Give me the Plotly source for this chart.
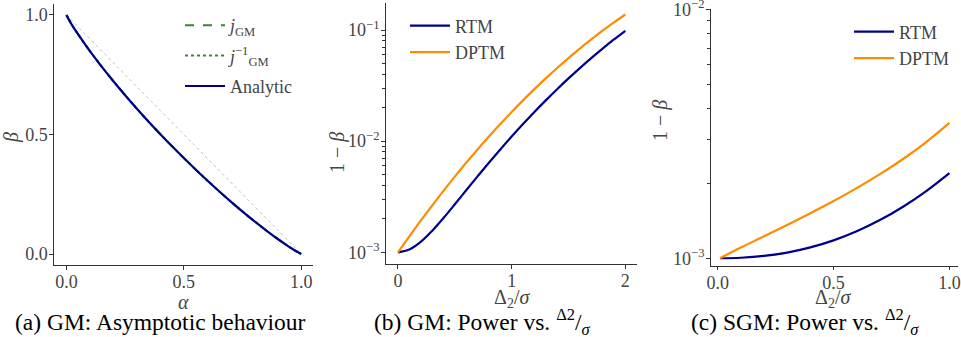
import plotly.graph_objects as go

# ---------------- data ----------------
# (a) GM: asymptotic trade-off curve
alpha = [0.0, 0.01, 0.02, 0.05, 0.10, 0.15, 0.20, 0.25, 0.30, 0.35, 0.40, 0.45, 0.50,
         0.55, 0.60, 0.65, 0.70, 0.75, 0.80, 0.85, 0.90, 0.95, 0.99, 1.0]
beta_analytic = [1.0, 0.981, 0.964, 0.9185, 0.8489, 0.7842, 0.7229, 0.6644, 0.6081, 0.5538,
                 0.5013, 0.4505, 0.4013, 0.3536, 0.3074, 0.2626, 0.2193, 0.1776, 0.1375,
                 0.0992, 0.0628, 0.0290, 0.005, 0.0]
beta_jgm = beta_analytic
beta_jgm_inv = beta_analytic
diag_x = [0.0, 1.0]
diag_y = [1.0, 0.0]

# (b) GM: power vs Delta2/sigma
d_gm = [0.0, 0.1, 0.2, 0.3, 0.4, 0.5, 0.6, 0.7, 0.8, 0.9, 1.0,
        1.1, 1.2, 1.3, 1.4, 1.5, 1.6, 1.7, 1.8, 1.9, 2.0]
rtm_gm = [0.001, 0.001059, 0.00124, 0.001558, 0.002035, 0.002705, 0.003617, 0.00482,
          0.0064, 0.00842, 0.0110, 0.01424, 0.01829, 0.02327, 0.02935, 0.03669,
          0.04547, 0.05587, 0.06805, 0.08219, 0.09844]
dptm_gm = [0.001, 0.001394, 0.001925, 0.002634, 0.003571, 0.004796, 0.006385, 0.008421,
           0.01101, 0.01425, 0.01830, 0.02328, 0.02937, 0.03671, 0.0455, 0.0559,
           0.0681, 0.0822, 0.0985, 0.1170, 0.1378]

# (c) SGM: power vs Delta2/sigma
d_sgm = [0.01, 0.1, 0.2, 0.3, 0.4, 0.5, 0.6, 0.7, 0.8, 0.9, 1.0]
rtm_sgm = [0.001, 0.0010044, 0.0010213, 0.0010539, 0.0011055, 0.0011802, 0.0012839,
           0.0014237, 0.0016114, 0.0018627, 0.0022]
dptm_sgm = [0.001, 0.001104, 0.0012246, 0.0013614, 0.0015171, 0.0016982, 0.0019143,
            0.0021777, 0.002506, 0.002931, 0.003499]

# tick labels
lin_ticks = [0.0, 0.5, 1.0]
lin_labels = ["0.0", "0.5", "1.0"]
gm_xticks = [0, 1, 2]
gm_xlabels = ["0", "1", "2"]
log_ticks_b = [1e-3, 1e-2, 1e-1]
log_labels_b = ["10<sup>−3</sup>", "10<sup>−2</sup>", "10<sup>−1</sup>"]
log_ticks_c = [1e-3, 1e-2]
log_labels_c = ["10<sup>−3</sup>", "10<sup>−2</sup>"]
minor_b = [k * 10.0 ** e for e in (-3, -2, -1) for k in range(2, 10) if k * 10.0 ** e < 0.18]
minor_c = [k * 1e-3 for k in range(2, 10)]

captions = ["(a) GM: Asymptotic behaviour",
            "(b) GM: Power vs. <sup>Δ2</sup>/<sub><i>σ</i></sub>",
            "(c) SGM: Power vs. <sup>Δ2</sup>/<sub><i>σ</i></sub>"]

NAVY = "#00008B"
ORANGE = "#FF8C00"
GREEN = "#2E8B2E"
AX = "#333333"
FONT = "Liberation Serif, Times New Roman, serif"

fig = go.Figure()

# panel (a)
fig.add_trace(go.Scatter(x=diag_x, y=diag_y, mode="lines", showlegend=False,
                         line=dict(color="#b0b0b0", width=0.8, dash="dot"),
                         xaxis="x", yaxis="y"))
fig.add_trace(go.Scatter(x=alpha, y=beta_jgm, mode="lines", name="<i>j</i><sub>GM</sub>",
                         line=dict(color=GREEN, width=2, dash="dash", shape="spline"),
                         xaxis="x", yaxis="y", legend="legend", legendgroup="g1"))
fig.add_trace(go.Scatter(x=alpha, y=beta_jgm_inv, mode="lines",
                         name="<i>j</i><sup>−1</sup><sub>GM</sub>",
                         line=dict(color=GREEN, width=2, dash="dot", shape="spline"),
                         xaxis="x", yaxis="y", legend="legend", legendgroup="g2"))
fig.add_trace(go.Scatter(x=alpha, y=beta_analytic, mode="lines", name="Analytic",
                         line=dict(color=NAVY, width=2.2, shape="spline"),
                         xaxis="x", yaxis="y", legend="legend", legendgroup="g3"))

# panel (b)
fig.add_trace(go.Scatter(x=d_gm, y=rtm_gm, mode="lines", name="RTM",
                         line=dict(color=NAVY, width=2.2, shape="spline"),
                         xaxis="x2", yaxis="y2", legend="legend2"))
fig.add_trace(go.Scatter(x=d_gm, y=dptm_gm, mode="lines", name="DPTM",
                         line=dict(color=ORANGE, width=2.2, shape="spline"),
                         xaxis="x2", yaxis="y2", legend="legend2"))

# panel (c)
fig.add_trace(go.Scatter(x=d_sgm, y=rtm_sgm, mode="lines", name="RTM",
                         line=dict(color=NAVY, width=2.2, shape="spline"),
                         xaxis="x3", yaxis="y3", legend="legend3"))
fig.add_trace(go.Scatter(x=d_sgm, y=dptm_sgm, mode="lines", name="DPTM",
                         line=dict(color=ORANGE, width=2.2, shape="spline"),
                         xaxis="x3", yaxis="y3", legend="legend3"))

W, H = 961, 337


def px_x(p):
    return p / W


def px_y(p):
    return 1 - p / H


axis_common = dict(showline=True, linecolor=AX, linewidth=1.2, ticks="outside",
                   ticklen=3.5, tickcolor=AX, showgrid=False, zeroline=False,
                   ticklabeloverflow="allow", automargin=False,
                   tickfont=dict(family=FONT, size=18, color="#444444"))
xcommon = dict(ticklabelstandoff=-3, **axis_common)
ycommon = dict(ticklabelstandoff=-2, **axis_common)
legfont = dict(family=FONT, size=18, color="#444444")

fig.update_layout(
    width=W, height=H, margin=dict(l=0, r=0, t=0, b=0, autoexpand=False),
    paper_bgcolor="white", plot_bgcolor="white",
    font=dict(family=FONT, color="#333333"),
    xaxis=dict(domain=[px_x(54), px_x(313)], range=[-0.053, 1.05], anchor="y",
               tickvals=lin_ticks, ticktext=lin_labels, **xcommon),
    yaxis=dict(domain=[px_y(265), px_y(4)], range=[-0.046, 1.046], anchor="x",
               tickvals=lin_ticks, ticktext=lin_labels, **ycommon),
    xaxis2=dict(domain=[px_x(385.7), px_x(636.7)], range=[-0.108, 2.1], anchor="y2",
                tickvals=gm_xticks, ticktext=gm_xlabels, **xcommon),
    yaxis2=dict(domain=[px_y(264), px_y(3)], type="log", range=[-3.105, -0.757],
                anchor="x2", tickvals=log_ticks_b, ticktext=log_labels_b,
                minor=dict(tickvals=minor_b, ticks="outside", ticklen=2.5, tickcolor=AX),
                **ycommon),
    xaxis3=dict(domain=[px_x(710.7), px_x(958)], range=[-0.030, 1.037], anchor="y3",
                tickvals=lin_ticks, ticktext=lin_labels, **xcommon),
    yaxis3=dict(domain=[px_y(265.7), px_y(9)], type="log", range=[-3.03, -1.998],
                anchor="x3", tickvals=log_ticks_c, ticktext=log_labels_c,
                minor=dict(tickvals=minor_c, ticks="outside", ticklen=2.5, tickcolor=AX),
                **ycommon),
    legend=dict(x=px_x(180), y=px_y(7), xanchor="left", yanchor="top", itemwidth=40,
                bgcolor="rgba(0,0,0,0)", font=legfont, tracegroupgap=4),
    legend2=dict(x=px_x(405), y=px_y(7.5), xanchor="left", yanchor="top", itemwidth=40,
                 bgcolor="rgba(0,0,0,0)", font=legfont),
    legend3=dict(x=px_x(849), y=px_y(13.5), xanchor="left", yanchor="top", itemwidth=40,
                 bgcolor="rgba(0,0,0,0)", font=legfont),
)

annots = []
# axis titles
annots.append(dict(text="<i>α</i>", x=px_x(183), y=px_y(302)))
annots.append(dict(text="<i>β</i>", x=px_x(12), y=px_y(138), textangle=-90))
annots.append(dict(text="Δ<sub>2</sub>/<i>σ</i>", x=px_x(512), y=px_y(298)))
annots.append(dict(text="1 − <i>β</i>", x=px_x(337), y=px_y(153), textangle=-90))
annots.append(dict(text="Δ<sub>2</sub>/<i>σ</i>", x=px_x(833), y=px_y(298)))
annots.append(dict(text="1 − <i>β</i>", x=px_x(660), y=px_y(121), textangle=-90))
for a in annots:
    a.update(xref="paper", yref="paper", showarrow=False, xanchor="center", yanchor="middle",
             font=dict(family=FONT, size=20, color="#444444"))
# captions
for cx, txt in zip([160, 482, 805], captions):
    annots.append(dict(text=txt, x=px_x(cx), y=px_y(322), xref="paper", yref="paper",
                       showarrow=False, xanchor="center", yanchor="middle",
                       font=dict(family=FONT, size=23.5, color="black")))
fig.update_layout(annotations=annots)

fig.write_html("out.html")
